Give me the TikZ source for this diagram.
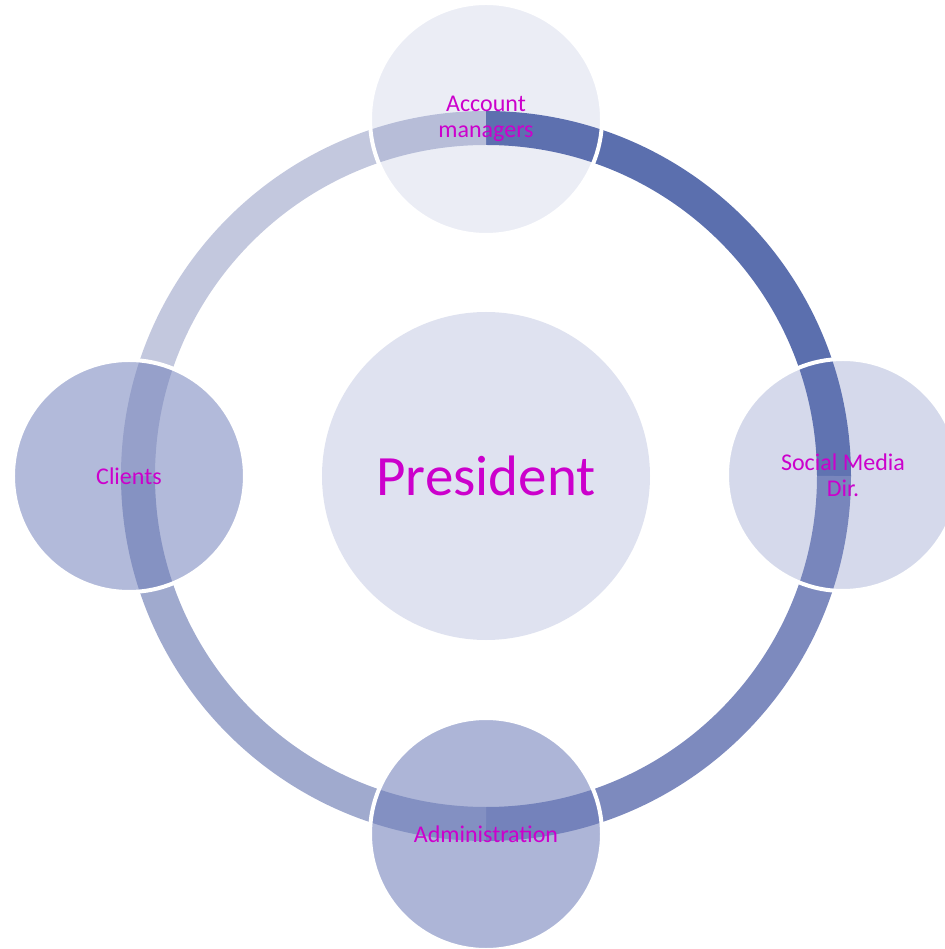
\documentclass[tikz,border=0pt]{standalone}
\usepackage{fontspec}
\setmainfont{Carlito}

\definecolor{ringA}{HTML}{5B6FAE}
\definecolor{ringB}{HTML}{7D8ABE}
\definecolor{ringC}{HTML}{A0AACE}
\definecolor{ringD}{HTML}{C3C8DE}
\definecolor{disc}{HTML}{6E7DB9}
\definecolor{lbl}{HTML}{CC00CC}

\begin{document}
\begin{tikzpicture}
	[
	x=1pt,y=1pt,
	align=center,
	member/.style={circle,draw=white,line width=4pt,fill=disc,text opacity=1,
		minimum size=232pt,inner sep=0pt,text=lbl,
		font=\fontsize{24}{26}\selectfont},
	boss/.style={circle,draw=none,fill=disc,fill opacity=0.22,text opacity=1,
		minimum size=328pt,inner sep=0pt,text=lbl,
		font=\fontsize{57}{60}\selectfont},
	ring/.style={line width=34pt,line cap=butt}
	]
		\useasboundingbox (-486,-473) rectangle (458,476);

		% ring segments
		\foreach \a/\col in {90/ringA,0/ringB,-90/ringC,-180/ringD}
			\draw[ring,\col] (\a:348) arc[start angle=\a,delta angle=-90,radius=348];

		% nodes
		\node[boss] (pres) at (0,0) {President};
		\node[member,fill opacity=0.14] (acct) at (0,357) {Account\\managers};
		\node[member,fill opacity=0.29] (social) at (357,1) {Social Media\\Dir.};
		\node[member,fill opacity=0.57] (admin) at (0,-358) {Administration};
		\node[member,fill opacity=0.53] (clients) at (-357,0) {Clients};

	\end{tikzpicture}
\end{document}
